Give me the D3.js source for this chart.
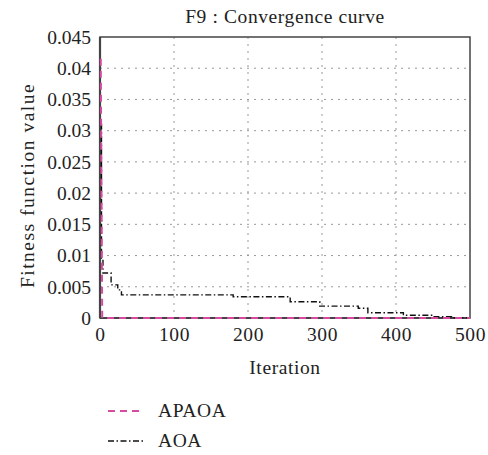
<!DOCTYPE html>
<html><head><meta charset="utf-8">
<script src="https://cdn.jsdelivr.net/npm/d3@7"></script>
<style>body{margin:0;background:#fff;} svg text{font-family:"Liberation Serif","Times New Roman",serif !important;fill:#222;letter-spacing:0.6px;}</style>
</head><body><svg id="c" width="488" height="455" font-family="Liberation Serif"></svg>
<script>
const xTicks = [0,100,200,300,400,500];
const yTicks = [0,0.005,0.01,0.015,0.02,0.025,0.03,0.035,0.04,0.045];
const yTickLabels = ["0","0.005","0.01","0.015","0.02","0.025","0.03","0.035","0.04","0.045"];
const seriesNames = ["APAOA","AOA"];
const apaoaIter = [1,3,500];
const apaoaVal = [0.0415,0,0];
const aoaIter = [1,2,4,15,24,29,180,257,297,349,362,410,450,475,500];
const aoaVal = [0.031,0.0096,0.0072,0.0053,0.0045,0.0037,0.0034,0.0026,0.0019,0.00155,0.00085,0.00043,0.0002,0.00005,0.00005];

const svg = d3.select("#c");
const L=100,R=470,T=37,B=318;
const x = d3.scaleLinear().domain([0,500]).range([L,R]);
const y = d3.scaleLinear().domain([0,0.045]).range([B,T]);
const fs = 19.5;

// grid
const g = svg.append("g");
g.selectAll("line.v").data(xTicks.slice(1,-1)).join("line")
 .attr("x1",d=>x(d)).attr("x2",d=>x(d)).attr("y1",T).attr("y2",B)
 .attr("stroke","#999").attr("stroke-width",1).attr("stroke-dasharray","2,5");
g.selectAll("line.h").data(yTicks.slice(1,-1)).join("line")
 .attr("y1",d=>y(d)).attr("y2",d=>y(d)).attr("x1",L).attr("x2",R)
 .attr("stroke","#999").attr("stroke-width",1).attr("stroke-dasharray","2,5");

// axes with labels
const xa = svg.append("g").attr("transform",`translate(0,${B})`)
 .call(d3.axisBottom(x).tickValues(xTicks).tickSize(0).tickPadding(9));
xa.select(".domain").remove();
xa.attr("font-family","Liberation Serif").attr("font-size",fs);
xa.selectAll("text").attr("fill","#222");
const ya = svg.append("g").attr("transform",`translate(${L},0)`)
 .call(d3.axisLeft(y).tickValues(yTicks).tickFormat((d,i)=>yTickLabels[i]).tickSize(0).tickPadding(9));
ya.select(".domain").remove();
ya.attr("font-family","Liberation Serif").attr("font-size",fs);
ya.selectAll("text").attr("fill","#222").style("letter-spacing","0px");

// box
svg.append("rect").attr("x",L).attr("y",T).attr("width",R-L).attr("height",B-T)
 .attr("fill","none").attr("stroke","#444").attr("stroke-width",1.5);
svg.append("line").attr("x1",L).attr("x2",L).attr("y1",T).attr("y2",B).attr("stroke","#444").attr("stroke-width",2.2);
svg.append("line").attr("x1",L).attr("x2",R).attr("y1",B).attr("y2",B).attr("stroke","#444").attr("stroke-width",2.2);

// series
const aoaLine = d3.line().x(d=>x(d[0])).y(d=>y(d[1])).curve(d3.curveStepAfter);
svg.append("path").datum(aoaIter.map((d,i)=>[d,aoaVal[i]]))
 .attr("d",aoaLine).attr("fill","none").attr("stroke","#111").attr("stroke-width",1.4)
 .attr("stroke-dasharray","6,2.5,1.5,2.5");
const apLine = d3.line().x(d=>x(d[0])).y(d=>y(d[1]));
svg.append("path").datum(apaoaIter.map((d,i)=>[d,apaoaVal[i]]))
 .attr("d",apLine).attr("fill","none").attr("stroke","#d64ba0").attr("stroke-width",2)
 .attr("stroke-dasharray","7,5");

// titles
svg.append("text").attr("x",285).attr("y",23).attr("text-anchor","middle").attr("font-size",fs).text("F9 : Convergence curve");
svg.append("text").attr("x",285).attr("y",374).attr("text-anchor","middle").attr("font-size",fs).text("Iteration");
svg.append("text").attr("transform",`translate(34,${(T+B)/2+8}) rotate(-90)`).attr("text-anchor","middle").attr("font-size",fs)
 .style("letter-spacing","1.5px").text("Fitness function value");

// legend
const leg = [{n:seriesNames[0],c:"#d64ba0",dash:"7,5",w:2,yy:411},{n:seriesNames[1],c:"#111",dash:"6,2.5,1.5,2.5",w:1.4,yy:441}];
leg.forEach(d=>{
 svg.append("line").attr("x1",108).attr("x2",143).attr("y1",d.yy).attr("y2",d.yy)
  .attr("stroke",d.c).attr("stroke-width",d.w).attr("stroke-dasharray",d.dash);
 svg.append("text").attr("x",158).attr("y",d.yy+6).attr("font-size",fs).text(d.n);
});
</script></body></html>
